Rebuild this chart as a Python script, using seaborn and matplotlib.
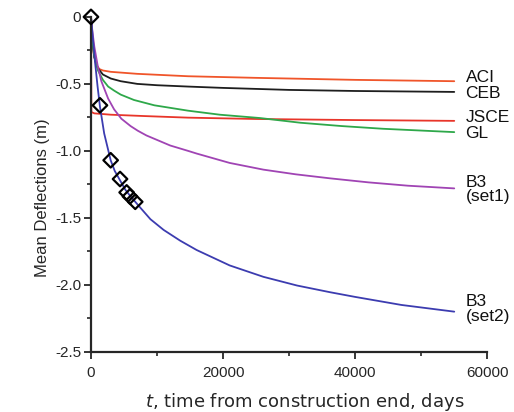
import numpy as np
import pandas as pd
import seaborn as sns
import matplotlib.pyplot as plt
from matplotlib.ticker import MultipleLocator, FixedLocator

# curve values (t in days, deflection in m)
t_aci = [0, 150, 400, 800, 1300, 1800, 3000, 7000, 14700, 25000, 40000, 55000]
y_aci = [0, -0.14, -0.27, -0.36, -0.39, -0.40, -0.41, -0.425, -0.443, -0.455, -0.47, -0.48]

t_ceb = [0, 200, 500, 1000, 1800, 3000, 4500, 7000, 10000, 14700, 20000, 30000, 40000, 55000]
y_ceb = [0, -0.17, -0.30, -0.38, -0.43, -0.46, -0.48, -0.50, -0.51, -0.52, -0.53, -0.545, -0.553, -0.56]

t_jsce = [0, 60, 500, 3000, 8000, 14700, 25000, 40000, 55000]
y_jsce = [0, -0.71, -0.72, -0.73, -0.74, -0.752, -0.762, -0.77, -0.776]

t_gl = [0, 200, 500, 1060, 1800, 2600, 3500, 4500, 6500, 9600, 14700, 19500, 25600, 31700, 38000, 44200, 55000]
y_gl = [0, -0.17, -0.29, -0.40, -0.47, -0.52, -0.55, -0.58, -0.62, -0.66, -0.70, -0.73, -0.755, -0.79, -0.815, -0.835, -0.86]

t_b3s1 = [0, 200, 500, 1000, 1570, 2600, 3500, 4600, 6000, 7100, 8400, 9600, 12000, 14700, 16000,
          21000, 26100, 31000, 36200, 42000, 48000, 55000]
y_b3s1 = [0, -0.10, -0.22, -0.36, -0.48, -0.61, -0.69, -0.76, -0.815, -0.85, -0.885, -0.91, -0.96, -1.00, -1.02,
          -1.09, -1.14, -1.175, -1.205, -1.235, -1.26, -1.28]

t_b3s2 = [0, 300, 600, 1000, 1360, 2000, 2980, 3600, 4400, 5200, 6000, 7400, 9000, 11000, 13500, 16000,
          21000, 26100, 31200, 36200, 40000, 47000, 55000]
y_b3s2 = [0, -0.17, -0.33, -0.52, -0.67, -0.87, -1.07, -1.15, -1.22, -1.29, -1.34, -1.42, -1.51, -1.59, -1.67, -1.74,
          -1.855, -1.94, -2.005, -2.055, -2.09, -2.15, -2.20]

# measured points
t_obs = [0, 1360, 2980, 4400, 5400, 5900, 6700]
y_obs = [0, -0.66, -1.07, -1.21, -1.31, -1.34, -1.38]

series = [
    ("ACI", t_aci, y_aci, "#f0552a"),
    ("CEB", t_ceb, y_ceb, "#1e1e1e"),
    ("JSCE", t_jsce, y_jsce, "#e8352a"),
    ("GL", t_gl, y_gl, "#2ea84a"),
    ("B3\n(set1)", t_b3s1, y_b3s1, "#a044b4"),
    ("B3\n(set2)", t_b3s2, y_b3s2, "#3c3cb0"),
]
label_y = [-0.45, -0.57, -0.75, -0.87, -1.29, -2.18]

sns.set_theme(style="ticks")
plt.rcParams['font.family'] = ['Liberation Sans', 'DejaVu Sans']
plt.rcParams['axes.unicode_minus'] = False
plt.rcParams['mathtext.fontset'] = 'custom'
plt.rcParams['mathtext.it'] = 'DejaVu Sans:italic'

fig = plt.figure(figsize=(5.14, 4.12), dpi=100)
ax = fig.add_axes([0.177, 0.146, 0.771, 0.813])

for (name, t, y, c), ly in zip(series, label_y):
    df = pd.DataFrame({"t": t, "y": y})
    sns.lineplot(data=df, x="t", y="y", ax=ax, color=c, lw=1.3,
                 estimator=None, sort=False, clip_on=False)
    ax.text(56700, ly, name, fontsize=12.5, va="center", ha="left",
            color="#111111", linespacing=0.95)

obs = pd.DataFrame({"t": t_obs, "y": y_obs})
sns.scatterplot(data=obs, x="t", y="y", ax=ax, marker="D", s=55,
                facecolor="none", edgecolor="black", linewidth=1.6,
                clip_on=False, zorder=5)

ax.set_xlim(0, 60000)
ax.set_ylim(-2.5, 0)
ax.xaxis.set_major_locator(FixedLocator([0, 20000, 40000, 60000]))
ax.xaxis.set_minor_locator(MultipleLocator(10000))
ax.yaxis.set_major_locator(FixedLocator([0, -0.5, -1.0, -1.5, -2.0, -2.5]))
ax.yaxis.set_minor_locator(MultipleLocator(0.25))
ax.set_yticklabels(["0", "-0.5", "-1.0", "-1.5", "-2.0", "-2.5"])
ax.set_xticklabels(["0", "20000", "40000", "60000"])
ax.tick_params(which="major", length=5, width=1.3, labelsize=11)
ax.tick_params(axis="x", which="major", pad=5)
ax.tick_params(axis="y", which="major", pad=2)
ax.tick_params(which="minor", length=3, width=1.2)
for s in ["left", "bottom"]:
    ax.spines[s].set_linewidth(1.6)
sns.despine(ax=ax)

ax.set_xlabel(r"$\it{t}$, time from construction end, days", fontsize=13,
              family="DejaVu Sans", labelpad=8)
ax.xaxis.label.set_x(0.54)
ax.set_ylabel("Mean Deflections (m)", fontsize=12, labelpad=4)
ax.yaxis.label.set_y(0.46)

fig.savefig("out.png", dpi=100)
